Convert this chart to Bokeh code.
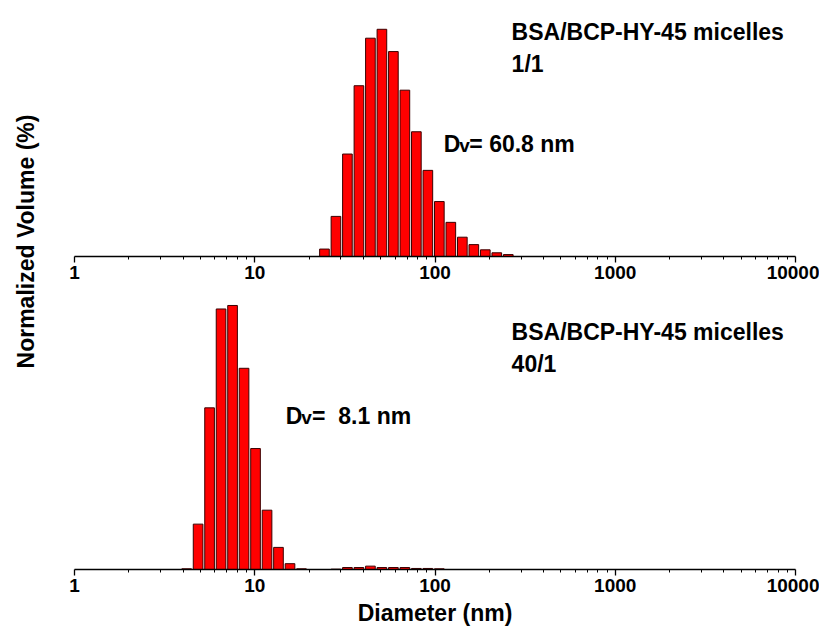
import math
from bokeh.plotting import figure
from bokeh.layouts import row, column
from bokeh.models import FixedTicker, Label, Range1d, ColumnDataSource
from bokeh.embed import file_html
from bokeh.resources import INLINE

# ---- data ----
top_sizes = [24.36, 28.21, 32.67, 37.84, 43.82, 50.75, 58.77, 68.06, 78.82,
             91.28, 105.7, 122.4, 141.8, 164.2, 190.1, 220.2, 255.0]
top_volume = [0.5, 2.7, 6.9, 11.5, 14.7, 15.3, 13.8, 11.2, 8.4,
              5.8, 3.7, 2.3, 1.3, 0.8, 0.45, 0.25, 0.13]

bot_sizes = [4.19, 4.85, 5.615, 6.503, 7.531, 8.721, 10.10, 11.70, 13.54,
             15.69, 18.17, 28.21, 32.67, 37.84, 43.82, 50.75, 58.77, 68.06,
             78.82, 91.28, 105.7]
bot_volume = [0.06, 3.9, 13.9, 22.4, 22.7, 17.3, 10.4, 5.1, 1.9,
              0.5, 0.06, 0.03, 0.17, 0.17, 0.29, 0.17, 0.17, 0.17,
              0.09, 0.09, 0.06]

major_ticks = [1, 10, 100, 1000, 10000]
tick_labels = {1: "1", 10: "10", 100: "100", 1000: "1000", 10000: "10000"}

FONT = "Liberation Sans"
BAR_FILL = "#FF0000"
BAR_LINE = "#3b0000"

ratio = top_sizes[1] / top_sizes[0]
half = ratio ** 0.42


def make_panel(sizes, vols, ymax, height, border_top, border_bottom, show_label):
    p = figure(width=779, height=height, x_axis_type="log",
               x_range=Range1d(1, 10000), y_range=Range1d(0, ymax),
               output_backend="svg", toolbar_location=None,
               min_border_left=34, min_border_right=24,
               min_border_top=border_top, min_border_bottom=border_bottom)
    src = ColumnDataSource(dict(
        left=[s / half for s in sizes],
        right=[s * half for s in sizes],
        top=vols,
        bottom=[0] * len(vols)))
    p.quad(left="left", right="right", top="top", bottom="bottom", source=src,
           fill_color=BAR_FILL, line_color=BAR_LINE, line_width=1)
    p.yaxis.visible = False
    p.xgrid.visible = False
    p.ygrid.visible = False
    p.outline_line_color = None
    minor = [k * 10 ** d for d in range(4) for k in range(2, 10)]
    p.xaxis.ticker = FixedTicker(ticks=major_ticks, minor_ticks=minor)
    p.xaxis.major_label_overrides = tick_labels
    ax = p.xaxis[0]
    ax.axis_line_color = "black"
    ax.axis_line_width = 1.3
    ax.major_tick_line_color = "black"
    ax.major_tick_line_width = 1.3
    ax.minor_tick_line_color = "black"
    ax.minor_tick_line_width = 1
    ax.major_tick_in = 0
    ax.major_tick_out = 6
    ax.minor_tick_in = 0
    ax.minor_tick_out = 3
    ax.major_label_standoff = 3
    ax.major_label_text_font = FONT
    ax.major_label_text_font_style = "bold"
    ax.major_label_text_font_size = "19px"
    ax.major_label_text_color = "black"
    if show_label:
        ax.axis_label = "Diameter (nm)"
        ax.axis_label_text_font = FONT
        ax.axis_label_text_font_style = "bold"
        ax.axis_label_text_font_size = "23px"
        ax.axis_label_text_color = "black"
        ax.axis_label_standoff = 5
    p.background_fill_color = "white"
    p.border_fill_color = "white"
    return p


def add_text(p, x, y, text, size="23px", align="left"):
    p.add_layout(Label(x=x, y=y, text=text, text_font=FONT,
                       text_font_style="bold", text_font_size=size,
                       text_color="black", text_align=align,
                       text_baseline="alphabetic"))


top = make_panel(top_sizes, top_volume, 16.7, 288, 8, 32, False)
bot = make_panel(bot_sizes, bot_volume, 24.16, 341, 0, 60, True)

# annotations (top)
add_text(top, 266, 15.10, "BSA/BCP-HY-45 micelles")
add_text(top, 266, 12.98, "1/1")
add_text(top, 112, 7.59, "D")
add_text(top, 136.5, 7.45, "v", size="19px")
add_text(top, 155, 7.59, "= 60.8 nm")

# annotations (bottom)
add_text(bot, 266, 20.38, "BSA/BCP-HY-45 micelles")
add_text(bot, 266, 17.69, "40/1")
add_text(bot, 14.85, 13.24, "D")
add_text(bot, 18.1, 13.1, "v", size="19px")
add_text(bot, 20.8, 13.24, "=\u00a0\u00a08.1 nm")

# shared y-axis label
lab = figure(width=40, height=629, x_range=Range1d(0, 40),
             y_range=Range1d(0, 629), output_backend="svg",
             toolbar_location=None, min_border=0)
lab.axis.visible = False
lab.grid.visible = False
lab.outline_line_color = None
lab.add_layout(Label(x=25, y=629 - 241, text="Normalized Volume (%)",
                     angle=math.pi / 2, text_align="center",
                     text_baseline="middle", text_font=FONT,
                     text_font_style="bold", text_font_size="23px",
                     text_color="black"))

layout = row(lab, column(top, bot, spacing=0), spacing=0)

open("out.html", "w").write(file_html(layout, INLINE))
